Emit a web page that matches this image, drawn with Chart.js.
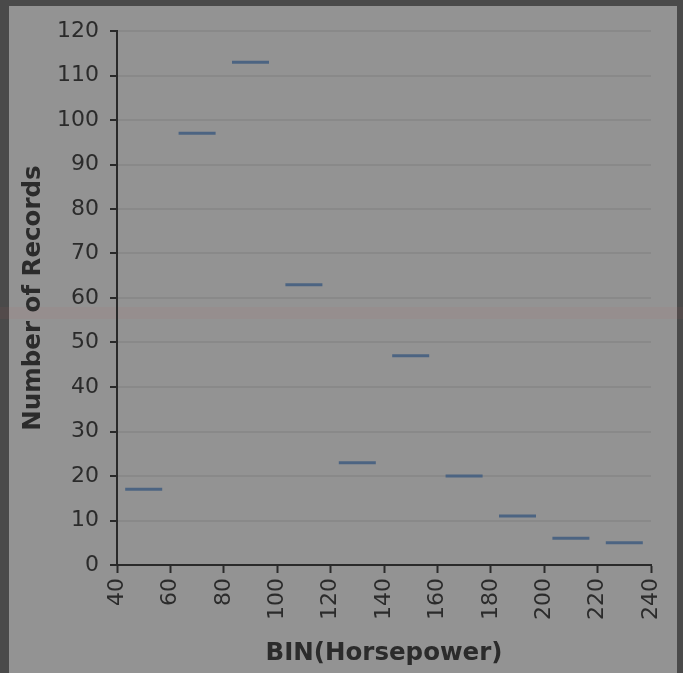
<!DOCTYPE html>
<html>
<head>
<meta charset="utf-8">
<title>BIN(Horsepower)</title>
<script src="https://cdn.jsdelivr.net/npm/chart.js@4.4.1/dist/chart.umd.min.js"></script>
<style>
  html, body { margin: 0; padding: 0; }
  body { width: 683px; height: 673px; background: #4a4a4a; position: relative; overflow: hidden; }
  #panel { position: absolute; left: 9px; top: 6px; width: 668px; height: 667px; background: #939393; }
  #band { position: absolute; left: 0; top: 307px; width: 683px; height: 12px; background: rgba(190, 90, 90, 0.08); }
  #wrap { position: absolute; left: 0; top: 0; width: 683px; height: 673px; }
</style>
</head>
<body>
<div id="panel"></div>
<div id="band"></div>
<div id="wrap"><canvas id="chart" width="683" height="673"></canvas></div>
<script>
// 分箱 (Horsepower, 步长 20)
const binStarts = [40, 60, 80, 100, 120, 140, 160, 180, 200, 220];
const binEnds = [60, 80, 100, 120, 140, 160, 180, 200, 220, 240];
// 每个分箱的记录数
const counts = [17, 97, 113, 63, 23, 47, 20, 11, 6, 5];
// 刻度
const xTickValues = [40, 60, 80, 100, 120, 140, 160, 180, 200, 220, 240];
const yTickValues = [0, 10, 20, 30, 40, 50, 60, 70, 80, 90, 100, 110, 120];

const axisColor = '#2a2a2a';
const textColor = '#2b2b2b';

const points = binStarts.map((start, i) => ({
  x: (start + binEnds[i]) / 2,
  y: counts[i]
}));

new Chart(document.getElementById('chart'), {
  type: 'scatter',
  data: {
    datasets: [{
      label: 'COUNT',
      data: points,
      pointStyle: 'line',
      pointRadius: 18.5,
      pointHoverRadius: 18.5,
      borderWidth: 3,
      borderColor: '#4c6482',
      backgroundColor: '#4c6482'
    }]
  },
  options: {
    responsive: false,
    animation: false,
    events: [],
    layout: { padding: { left: 0, top: 31, right: 32, bottom: 0 } },
    plugins: {
      legend: { display: false },
      tooltip: { enabled: false }
    },
    scales: {
      x: {
        type: 'linear',
        min: 40,
        max: 240,
        afterBuildTicks: (scale) => { scale.ticks = xTickValues.map(v => ({ value: v })); },
        afterFit: (scale) => { scale.height = 108; },
        border: { display: true, color: axisColor, width: 2 },
        grid: {
          drawOnChartArea: false,
          drawTicks: true,
          tickLength: 8,
          tickWidth: 2,
          tickColor: axisColor
        },
        ticks: {
          minRotation: 90,
          maxRotation: 90,
          padding: 5,
          color: textColor,
          font: { family: 'DejaVu Sans', size: 22 }
        },
        title: {
          display: true,
          text: 'BIN(Horsepower)',
          color: textColor,
          padding: { top: 0, bottom: 5 },
          font: { family: 'DejaVu Sans', size: 24.5, weight: 'bold' }
        }
      },
      y: {
        min: 0,
        max: 120,
        afterBuildTicks: (scale) => { scale.ticks = yTickValues.map(v => ({ value: v })); },
        afterFit: (scale) => { scale.width = 117; },
        border: { display: true, color: axisColor, width: 2 },
        grid: {
          color: '#898989',
          lineWidth: 2,
          drawTicks: true,
          tickLength: 7,
          tickWidth: 2,
          tickColor: axisColor
        },
        ticks: {
          padding: 11,
          color: textColor,
          font: { family: 'DejaVu Sans', size: 22 }
        },
        title: {
          display: true,
          text: 'Number of Records',
          color: textColor,
          padding: { top: 19, bottom: 0 },
          font: { family: 'DejaVu Sans', size: 24.5, weight: 'bold' }
        }
      }
    }
  }
});
</script>
</body>
</html>
